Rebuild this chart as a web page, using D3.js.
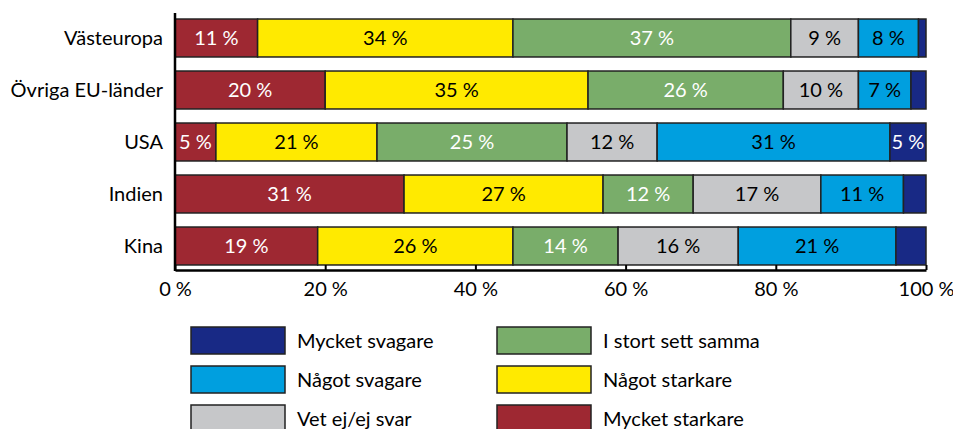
<!DOCTYPE html>
<html>
<head>
<meta charset="utf-8">
<script src="https://cdn.jsdelivr.net/npm/d3@7"></script>
<style>
  body { margin: 0; background: #fff; }
  text { font-family: Lato, "Open Sans", sans-serif; }
</style>
</head>
<body>
<div id="chart"></div>
<script>
// categories (top to bottom)
var regions = ["Västeuropa", "Övriga EU-länder", "USA", "Indien", "Kina"];

// series, left to right in the bars
var seriesNames = ["Mycket starkare", "Något starkare", "I stort sett samma",
                   "Vet ej/ej svar", "Något svagare", "Mycket svagare"];
var seriesColors = ["#9e2832", "#ffea00", "#79ad6a", "#c6c7c9", "#009fdf", "#182985"];
var labelColors = ["#fff", "#000", "#fff", "#000", "#000", "#fff"];

// share per region, in %
var mycketStarkare = [11, 20, 5.45, 30.5, 19];
var nagotStarkare  = [34, 35, 21.45, 26.5, 26];
var samma          = [37, 26, 25.3, 12, 14];
var vetEj          = [9, 10, 12, 17, 16];
var nagotSvagare   = [8, 7, 31, 11, 21];
var mycketSvagare  = [1, 2, 4.8, 3, 4];

var xTicks = [0, 20, 40, 60, 80, 100];

var seriesValues = [mycketStarkare, nagotStarkare, samma, vetEj, nagotSvagare, mycketSvagare];

// table for d3.stack
var data = regions.map(function(r, i) {
  var row = {region: r};
  seriesNames.forEach(function(s, j) { row[s] = seriesValues[j][i]; });
  return row;
});

var width = 953, height = 429;

var svg = d3.select("#chart")
  .append("svg")
  .attr("width", width)
  .attr("height", height);

var x = d3.scaleLinear()
  .domain([0, 100])
  .range([175, 926]);

var y = d3.scaleBand()
  .domain(regions)
  .range([12, 272])
  .paddingInner(0.27)
  .paddingOuter(0.135);

var color = d3.scaleOrdinal()
  .domain(seriesNames)
  .range(seriesColors);

var stackedData = d3.stack().keys(seriesNames)(data);

// bars
var layers = svg.selectAll("g.layer")
  .data(stackedData)
  .enter()
  .append("g")
  .attr("class", "layer")
  .attr("fill", function(d) { return color(d.key); });

layers.selectAll("rect")
  .data(function(d) { return d; })
  .enter()
  .append("rect")
  .attr("x", function(d) { return x(d[0]); })
  .attr("y", function(d) { return y(d.data.region); })
  .attr("width", function(d) { return x(d[1]) - x(d[0]); })
  .attr("height", y.bandwidth())
  .attr("stroke", "#222")
  .attr("stroke-width", 1.5);

// value labels
layers.each(function(layer, j) {
  d3.select(this).selectAll("text")
    .data(layer.filter(function(d) { return d[1] - d[0] >= 4.5; }))
    .enter()
    .append("text")
    .attr("x", function(d) { return (x(d[0]) + x(d[1])) / 2; })
    .attr("y", function(d) { return y(d.data.region) + y.bandwidth() / 2; })
    .attr("dy", "0.36em")
    .attr("text-anchor", "middle")
    .attr("fill", labelColors[j])
    .style("font-size", "20px")
    .text(function(d) { return Math.round(d[1] - d[0]) + " %"; });
});

// category labels
svg.selectAll("text.cat")
  .data(regions)
  .enter()
  .append("text")
  .attr("class", "cat")
  .attr("x", 163)
  .attr("y", function(d) { return y(d) + y.bandwidth() / 2; })
  .attr("dy", "0.36em")
  .attr("text-anchor", "end")
  .style("font-size", "20px")
  .text(function(d) { return d; });

// x axis with inward ticks
var xAxis = svg.append("g")
  .attr("transform", "translate(0,270)")
  .call(d3.axisBottom(x).tickValues(xTicks).tickSizeInner(-5).tickSizeOuter(0)
    .tickFormat(function(d) { return d + " %"; }));
xAxis.select(".domain").attr("stroke", "#000").attr("stroke-width", 2.5);
xAxis.selectAll(".tick line").attr("stroke", "#000").attr("stroke-width", 2);
xAxis.selectAll(".tick text")
  .attr("y", 12)
  .attr("fill", "#000")
  .style("font-size", "20px")
  .style("font-family", "Lato, sans-serif");

// y axis line
svg.append("line")
  .attr("x1", x(0)).attr("x2", x(0))
  .attr("y1", 13).attr("y2", 271)
  .attr("stroke", "#000")
  .attr("stroke-width", 2.5);

// legend: two columns, three rows
var legendOrder = seriesNames.slice().reverse();
var legend = svg.selectAll("g.legend")
  .data(legendOrder)
  .enter()
  .append("g")
  .attr("class", "legend")
  .attr("transform", function(d, i) {
    var col = Math.floor(i / 3), row = i % 3;
    return "translate(" + (191 + col * 306) + "," + (327 + row * 39) + ")";
  });

legend.append("rect")
  .attr("width", 94)
  .attr("height", 27)
  .attr("fill", function(d) { return color(d); })
  .attr("stroke", "#222")
  .attr("stroke-width", 1.5);

legend.append("text")
  .attr("x", 106)
  .attr("y", 13.5)
  .attr("dy", "0.36em")
  .style("font-size", "20px")
  .text(function(d) { return d; });
</script>
</body>
</html>
